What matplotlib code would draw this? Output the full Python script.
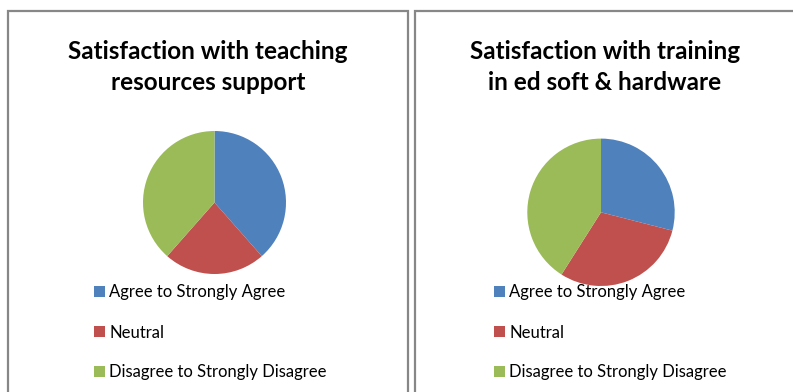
import matplotlib
matplotlib.use('Agg')
import matplotlib.pyplot as plt
from matplotlib.patches import Rectangle

plt.rcParams['font.family'] = ['Lato', 'DejaVu Sans']

W, H = 793, 392

categories = ['Agree to Strongly Agree', 'Neutral', 'Disagree to Strongly Disagree']
colors = ['#4F81BD', '#C0504D', '#9BBB59']

title_left = ['Satisfaction with teaching', 'resources support']
values_left = [38.5, 23.0, 38.5]

title_right = ['Satisfaction with training', 'in ed soft & hardware']
values_right = [29, 30, 41]

fig = plt.figure(figsize=(W / 100, H / 100), dpi=100)


def px_axes(cx, cy, r):
    # axes square of side 2r centred on pixel (cx, cy), y measured from the top
    return fig.add_axes([(cx - r) / W, 1 - (cy + r) / H, 2 * r / W, 2 * r / H])


def panel(x0, x1, title, tx, values, cx, cy, r, lx):
    # chart frame
    fig.add_artist(Rectangle((x0 / W, -0.1), (x1 - x0) / W, 1.1 - 11 / H,
                             transform=fig.transFigure, fill=False,
                             edgecolor='#878787', lw=1.6))
    for line, base in zip(title, [59, 90]):
        fig.text(tx / W, 1 - base / H, line, ha='center', va='baseline',
                 fontsize=17.5, fontweight='bold', color='black')
    ax = px_axes(cx, cy, r)
    wedges, _ = ax.pie(values, colors=colors, startangle=90, counterclock=False,
                       radius=1, wedgeprops=dict(linewidth=0))
    ax.set_xlim(-1, 1)
    ax.set_ylim(-1, 1)
    ax.set_aspect('equal')
    ax.axis('off')
    fig.legend(wedges, categories, loc='upper left',
               bbox_to_anchor=(lx / W, 1 - 284.5 / H), frameon=False,
               fontsize=12, handlelength=0.66, handleheight=0.66,
               handletextpad=0.25, labelspacing=1.44, borderpad=0,
               borderaxespad=0)


panel(8, 408, title_left, 208, values_left, 214.5, 202.5, 71.5, 94)
panel(415, 815, title_right, 605, values_right, 601, 212.3, 73.7, 494)

fig.savefig('out.png', dpi=100)
